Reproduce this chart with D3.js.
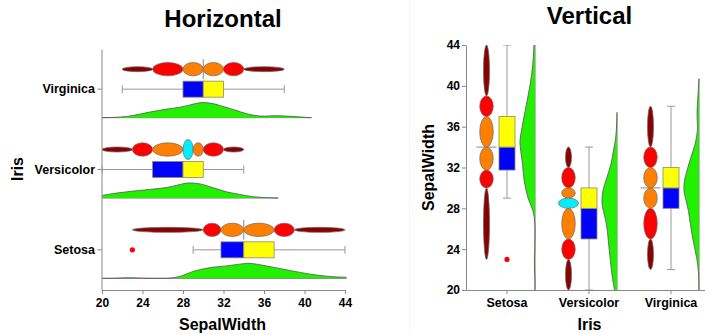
<!DOCTYPE html>
<html>
<head>
<meta charset="utf-8">
<script src="https://cdn.jsdelivr.net/npm/d3@7"></script>
<style>
  body { margin: 0; background: #fff; }
  svg { display: block; font-family: "Liberation Sans", Arial, sans-serif; }
  .axis text { font-weight: bold; fill: #000; }
  .axis path, .axis line { stroke: #888; }
</style>
</head>
<body>
<svg id="chart" width="705" height="335"></svg>
<script>
// categories + ticks
const species = ['Setosa', 'Versicolor', 'Virginica'];
const valueTicks = [20, 24, 28, 32, 36, 40, 44];

// letter-value boundaries for SepalWidth, and the kind of each segment
const setosaBreaks = [23, 30, 31.75, 34, 37, 39, 44];
const versicolorBreaks = [20, 23, 25, 28, 29, 30, 32, 34];
const virginicaBreaks = [22, 25, 28, 30, 32, 34, 38];
const setosaKinds = ['tail', 'outer', 'inner', 'inner', 'outer', 'tail'];
const versicolorKinds = ['tail', 'outer', 'inner', 'mid', 'inner', 'outer', 'tail'];
const virginicaKinds = ['tail', 'outer', 'inner', 'inner', 'outer', 'tail'];
const medianMarks = [34, null, 30];

// box plot stats (same order as species)
const boxMin = [29, 20, 22];
const boxQ1 = [31.75, 25, 28];
const boxMedian = [34, 28, 30];
const boxQ3 = [37, 30, 32];
const boxMax = [44, 34, 38];
const outliers = [[23], [], []];

// density curves: [SepalWidth, relative height]
const setosaDensity = [[20, 0], [20.8, 0], [22.8, 0.04], [23.75, 0.02], [25, 0], [26.7, 0.02], [27.7, 0.13],
  [29, 0.46], [30.7, 0.72], [32.3, 0.83], [34, 0.98], [34.6, 1], [35.9, 0.87], [37.6, 0.65], [39.6, 0.39],
  [41.2, 0.22], [42.8, 0.11], [44.2, 0.07]];
const versicolorDensity = [[20, 0.17], [21.45, 0.33], [23.1, 0.46], [24.7, 0.57], [26.4, 0.7], [27.7, 0.9],
  [28.5, 1], [29.7, 0.94], [31, 0.68], [32.3, 0.41], [33.6, 0.24], [34.9, 0.09], [36.3, 0.02], [37.4, 0]];
const virginicaDensity = [[20, 0], [21.8, 0.04], [23.1, 0.15], [24.7, 0.37], [26.4, 0.57], [27.7, 0.7],
  [28.7, 0.85], [29.7, 1], [30.7, 0.97], [31.7, 0.8], [33, 0.54], [34.3, 0.26], [35.6, 0.11], [37.3, 0.13],
  [38.6, 0.09], [40.2, 0.02], [40.7, 0]];

const breaks = [setosaBreaks, versicolorBreaks, virginicaBreaks];
const kinds = [setosaKinds, versicolorKinds, virginicaKinds];
const densities = [setosaDensity, versicolorDensity, virginicaDensity];

const kindColor = { tail: '#8b0000', outer: '#ff0000', inner: '#ff8000', mid: '#00eeff' };

let svg = d3.select('#chart');

// faint divider between the two panels
svg.append('line')
  .attr('x1', 409.5).attr('x2', 409.5).attr('y1', 0).attr('y2', 335)
  .attr('stroke', '#f7f7f7');

function drawPanel(cfg) {
  let g = svg.append('g');
  let bw = cfg.cat.bandwidth();
  let hz = cfg.horizontal;
  // position along value axis + offset across the band
  let px = (s, off, val) => hz ? cfg.val(val) : cfg.cat(s) + bw / 2 + off;
  let py = (s, off, val) => hz ? cfg.cat(s) + bw / 2 + off : cfg.val(val);

  let clipId = 'clip-' + cfg.name;
  g.append('clipPath').attr('id', clipId)
    .append('rect')
    .attr('x', cfg.area[0]).attr('y', cfg.area[1])
    .attr('width', cfg.area[2]).attr('height', cfg.area[3]);

  let plot = g.append('g').attr('clip-path', `url(#${clipId})`);

  species.forEach((s, i) => {
    // density (half violin)
    let base = cfg.densOff;
    let dens = densities[i];
    let area, line;
    if (hz) {
      area = d3.area().curve(d3.curveCatmullRom)
        .x(d => cfg.val(d[0]))
        .y0(py(s, base, 0))
        .y1(d => py(s, base - d[1] * cfg.densH, 0));
      line = d3.line().curve(d3.curveCatmullRom)
        .x(d => cfg.val(d[0]))
        .y(d => py(s, base - d[1] * cfg.densH, 0));
    } else {
      area = d3.area().curve(d3.curveCatmullRom)
        .y(d => cfg.val(d[0]))
        .x0(px(s, base, 0))
        .x1(d => px(s, base - d[1] * cfg.densH, 0));
      line = d3.line().curve(d3.curveCatmullRom)
        .y(d => cfg.val(d[0]))
        .x(d => px(s, base - d[1] * cfg.densH, 0));
    }
    let first = dens[0][0], last = dens[dens.length - 1][0];
    plot.append('line')
      .attr('x1', px(s, base, first)).attr('y1', py(s, base, first))
      .attr('x2', px(s, base, last)).attr('y2', py(s, base, last))
      .attr('stroke', '#777').attr('stroke-width', 1);
    plot.append('path').datum(dens)
      .attr('d', area)
      .attr('fill', '#22f000');
    plot.append('path').datum(dens)
      .attr('d', line)
      .attr('fill', 'none')
      .attr('stroke', '#555').attr('stroke-width', 0.8);

    // letter value ellipses
    let br = breaks[i];
    kinds[i].forEach((k, j) => {
      let a = br[j], b = br[j + 1];
      let half = Math.abs(cfg.val(b) - cfg.val(a)) / 2;
      let th = cfg.thick[k] / 2;
      plot.append('ellipse')
        .attr('cx', px(s, cfg.ellOff, (a + b) / 2))
        .attr('cy', py(s, cfg.ellOff, (a + b) / 2))
        .attr('rx', hz ? half : th)
        .attr('ry', hz ? th : half)
        .attr('fill', kindColor[k])
        .attr('stroke', '#666').attr('stroke-width', 0.7);
    });
    if (medianMarks[i] != null) {
      let m = medianMarks[i];
      plot.append('line')
        .attr('x1', px(s, cfg.ellOff - 10, m)).attr('y1', py(s, cfg.ellOff - 10, m))
        .attr('x2', px(s, cfg.ellOff + 10, m)).attr('y2', py(s, cfg.ellOff + 10, m))
        .attr('stroke', '#888').attr('stroke-width', 1);
    }

    // whiskers
    let cap = 4, bh = 8;
    [[boxMin[i], boxQ1[i]], [boxQ3[i], boxMax[i]]].forEach(w => {
      plot.append('line')
        .attr('x1', px(s, 0, w[0])).attr('y1', py(s, 0, w[0]))
        .attr('x2', px(s, 0, w[1])).attr('y2', py(s, 0, w[1]))
        .attr('stroke', '#999');
    });
    [boxMin[i], boxMax[i]].forEach(v => {
      plot.append('line')
        .attr('x1', px(s, -cap, v)).attr('y1', py(s, -cap, v))
        .attr('x2', px(s, cap, v)).attr('y2', py(s, cap, v))
        .attr('stroke', '#999');
    });
    // box halves
    [[boxQ1[i], boxMedian[i], '#0000ff'], [boxMedian[i], boxQ3[i], '#ffff00']].forEach(p => {
      let x0 = px(s, -bh, p[0]), x1 = px(s, bh, p[1]);
      let y0 = py(s, -bh, p[0]), y1 = py(s, bh, p[1]);
      plot.append('rect')
        .attr('x', Math.min(x0, x1)).attr('y', Math.min(y0, y1))
        .attr('width', Math.abs(x1 - x0)).attr('height', Math.abs(y1 - y0))
        .attr('fill', p[2])
        .attr('stroke', '#8a8a6a').attr('stroke-width', 0.8);
    });
    outliers[i].forEach(o => {
      plot.append('circle')
        .attr('cx', px(s, 0, o)).attr('cy', py(s, 0, o))
        .attr('r', 2.6).attr('fill', '#ff0000');
    });
  });

  // axes
  let valAxis = hz ? d3.axisBottom(cfg.val) : d3.axisLeft(cfg.val);
  valAxis.tickValues(valueTicks).tickSize(4).tickSizeOuter(0).tickPadding(hz ? 4 : 2);
  let catAxis = hz ? d3.axisLeft(cfg.cat) : d3.axisBottom(cfg.cat);
  catAxis.tickSize(4).tickSizeOuter(0).tickPadding(hz ? 2.5 : 4);

  let va = g.append('g').attr('class', 'axis')
    .attr('transform', hz ? `translate(0,${cfg.area[1] + cfg.area[3]})` : `translate(${cfg.area[0]},0)`)
    .call(valAxis);
  va.selectAll('text').style('font-size', '12px');
  let ca = g.append('g').attr('class', 'axis')
    .attr('transform', hz ? `translate(${cfg.area[0]},0)` : `translate(0,${cfg.area[1] + cfg.area[3]})`)
    .call(catAxis);
  ca.selectAll('text').style('font-size', '12.5px');
  g.selectAll('.axis .domain').attr('stroke', '#888');

  // titles
  g.append('text')
    .attr('x', cfg.title[1]).attr('y', cfg.title[2])
    .attr('text-anchor', 'middle')
    .style('font-size', '24px').style('font-weight', 'bold')
    .text(cfg.title[0]);
  g.append('text')
    .attr('x', cfg.xTitle[1]).attr('y', cfg.xTitle[2])
    .attr('text-anchor', 'middle')
    .style('font-size', '16px').style('font-weight', 'bold')
    .text(cfg.xTitle[0]);
  g.append('text')
    .attr('transform', `translate(${cfg.yTitle[1]},${cfg.yTitle[2]}) rotate(-90)`)
    .attr('text-anchor', 'middle')
    .style('font-size', '16px').style('font-weight', 'bold')
    .text(cfg.yTitle[0]);
}

// left panel: horizontal
drawPanel({
  name: 'h',
  horizontal: true,
  val: d3.scaleLinear().domain([20, 44]).range([102, 345]),
  cat: d3.scaleBand().domain(species.slice().reverse()).range([49, 290]),
  area: [101.5, 49, 245, 241],
  ellOff: -20, densOff: 28.5, densH: 15,
  thick: { tail: 5, outer: 13.3, inner: 13.3, mid: 20 },
  title: ['Horizontal', 223, 27],
  xTitle: ['SepalWidth', 222.5, 330],
  yTitle: ['Iris', 23, 169]
});

// right panel: vertical
drawPanel({
  name: 'v',
  horizontal: false,
  val: d3.scaleLinear().domain([20, 44]).range([290, 45]),
  cat: d3.scaleBand().domain(species).range([466, 712]),
  area: [466, 45, 246, 245],
  ellOff: -20.5, densOff: 28, densH: 15,
  thick: { tail: 6, outer: 13.5, inner: 13.5, mid: 20 },
  title: ['Vertical', 589.5, 24],
  xTitle: ['Iris', 589.5, 330],
  yTitle: ['SepalWidth', 434, 167.5]
});
</script>
</body>
</html>
